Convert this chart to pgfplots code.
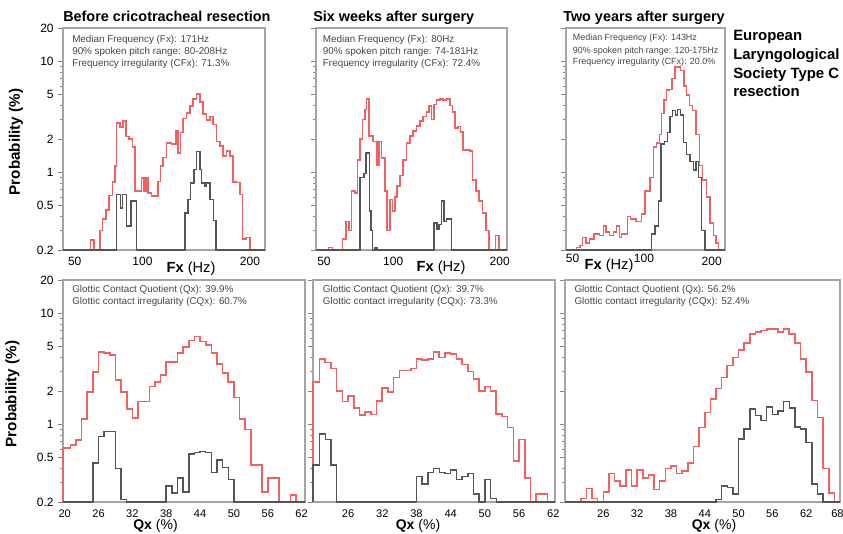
\documentclass[border=0pt]{standalone}
\usepackage{fontspec}
\setmainfont{Liberation Sans}
\usepackage{pgfplots}
\pgfplotsset{compat=1.18}
\definecolor{histred}{RGB}{240,98,98}
\definecolor{histgray}{RGB}{85,85,85}
\definecolor{framegray}{RGB}{165,165,165}
\definecolor{annot}{RGB}{70,70,70}
\tikzset{xtl/.style={font=\fontsize{9}{10}\selectfont, inner sep=0pt, anchor=center},
         qtl/.style={font=\fontsize{8.3}{10}\selectfont, inner sep=0pt, anchor=center, yshift=-8.5pt}}
\begin{document}
\begin{tikzpicture}
\path[use as bounding box] (0,0) rectangle (632.25pt,400.5pt);

% ---------- Panel 1: Fx before ----------
\begin{axis}[at={(47.25pt,213pt)}, anchor=south west, scale only axis, width=151.5pt, height=166.5pt,
  ymode=log, ymin=0.2, ymax=20, clip=false,
  axis line style={draw=framegray, line width=0.9pt},
  ytick={0.2,0.5,1,2,5,10,20}, minor ytick={0.3,0.4,0.6,0.7,0.8,0.9,3,4,6,7,8,9},
  tick align=outside, tick pos=left, major tick length=3.5pt, minor tick length=2.2pt,
  tick style={draw=framegray!80!black, line width=0.6pt}, xmajorticks=false,
  tick label style={font=\fontsize{9}{10}\selectfont},
  xmin=190, xmax=795, xtick=\empty,
  yticklabels={0.2,0.5,1,2,5,10,20}]
\addplot[const plot, draw=histred, line width=1.2pt] coordinates {(190,0.2)(272,0.245)(282,0.2)(300,0.30)(308,0.38)(318,0.46)(328,0.62)(338,0.82)(345,1.14)(350,2.8)(360,2.55)(370,2.9)(378,2.1)(388,2.0)(398,1.7)(405,0.68)(425,0.89)(432,0.68)(438,0.9)(445,0.65)(455,0.61)(475,0.83)(482,1.14)(490,1.36)(500,1.85)(515,1.8)(528,2.35)(535,1.5)(542,2.28)(550,3.05)(560,3.45)(570,3.95)(580,4.6)(590,5.1)(600,4.3)(610,3.35)(620,2.95)(630,3.2)(640,2.7)(650,1.9)(660,1.73)(670,1.4)(680,1.55)(690,1.4)(700,0.82)(710,0.81)(720,0.63)(728,0.25)(738,0.26)(750,0.2)(795,0.2)};
\addplot[const plot, draw=histgray, line width=1.1pt] coordinates {(190,0.2)(350,0.63)(362,0.48)(368,0.63)(380,0.33)(393,0.55)(410,0.2)(555,0.43)(565,0.57)(572,0.8)(582,1.06)(590,1.55)(600,1.06)(605,0.8)(615,0.75)(620,0.8)(630,0.57)(640,0.37)(648,0.2)(795,0.2)};
\node[xtl, yshift=-8.3pt] at (axis cs:225,0.2) {50};
\node[xtl, yshift=-8.3pt] at (axis cs:428,0.2) {100};
\node[xtl, yshift=-8.3pt] at (axis cs:750,0.2) {200};
\end{axis}

% ---------- Panel 2: Fx six weeks ----------
\begin{axis}[at={(237pt,213pt)}, anchor=south west, scale only axis, width=143.25pt, height=166.5pt,
  ymode=log, ymin=0.2, ymax=20, clip=false,
  axis line style={draw=framegray, line width=0.9pt},
  ytick={0.2,0.5,1,2,5,10,20}, minor ytick={0.3,0.4,0.6,0.7,0.8,0.9,3,4,6,7,8,9}, yticklabels={},
  tick align=outside, tick pos=left, major tick length=3.5pt, minor tick length=2.2pt,
  tick style={draw=framegray!80!black, line width=0.6pt}, xmajorticks=false,
  xmin=78, xmax=652, xtick=\empty]
\addplot[const plot, draw=histred, line width=1.2pt] coordinates {(78,0.2)(115,0.21)(128,0.2)(158,0.25)(168,0.36)(178,0.3)(185,0.68)(195,0.65)(203,1.3)(210,2.0)(218,3.0)(225,3.7)(230,4.6)(237,2.13)(250,1.9)(262,1.15)(268,1.9)(275,1.35)(285,0.68)(292,0.3)(300,0.57)(308,0.45)(315,0.6)(322,0.75)(330,0.94)(340,1.3)(350,1.85)(360,2.13)(370,2.35)(380,2.62)(390,2.9)(400,3.2)(410,3.5)(418,3.95)(425,3.0)(432,4.1)(440,4.5)(450,4.6)(460,4.5)(470,4.6)(480,4.0)(488,3.5)(495,2.5)(505,2.6)(512,2.3)(520,1.6)(540,1.55)(548,0.85)(558,0.68)(568,0.55)(578,0.43)(588,0.3)(598,0.2)(618,0.27)(628,0.2)(652,0.2)};
\addplot[const plot, draw=histgray, line width=1.1pt] coordinates {(78,0.2)(210,0.9)(222,0.98)(228,1.5)(238,0.45)(243,0.3)(248,0.2)(255,0.21)(262,0.2)(432,0.35)(442,0.31)(448,0.34)(455,0.55)(462,0.36)(470,0.38)(485,0.2)(652,0.2)};
\node[xtl, yshift=-8.3pt] at (axis cs:102,0.2) {50};
\node[xtl, yshift=-8.3pt] at (axis cs:310,0.2) {100};
\node[xtl, yshift=-8.3pt] at (axis cs:630,0.2) {200};
\end{axis}

% ---------- Panel 3: Fx two years ----------
\begin{axis}[at={(424.5pt,213pt)}, anchor=south west, scale only axis, width=119.25pt, height=166.5pt,
  ymode=log, ymin=0.2, ymax=20, clip=false,
  axis line style={draw=framegray, line width=0.9pt},
  ytick={0.2,0.5,1,2,5,10,20}, minor ytick={0.3,0.4,0.6,0.7,0.8,0.9,3,4,6,7,8,9}, yticklabels={},
  tick align=outside, tick pos=left, major tick length=3.5pt, minor tick length=2.2pt,
  tick style={draw=framegray!80!black, line width=0.6pt}, xmajorticks=false,
  xmin=48, xmax=525, xtick=\empty]
\addplot[const plot, draw=histred, line width=1.2pt] coordinates {(48,0.2)(80,0.21)(90,0.22)(98,0.26)(108,0.23)(118,0.25)(132,0.28)(148,0.27)(160,0.33)(168,0.29)(178,0.27)(190,0.29)(200,0.33)(208,0.26)(215,0.28)(232,0.4)(242,0.38)(258,0.36)(275,0.42)(285,0.68)(300,0.9)(310,1.7)(320,1.85)(328,2.2)(335,3.4)(342,4.5)(350,5.5)(358,5.6)(366,7.0)(375,8.9)(392,8.3)(402,6.0)(410,5.0)(418,4.0)(428,3.6)(438,2.2)(448,1.15)(458,0.85)(470,0.6)(480,0.35)(490,0.27)(498,0.23)(505,0.2)(525,0.2)};
\addplot[const plot, draw=histgray, line width=1.1pt] coordinates {(48,0.2)(305,0.28)(315,0.33)(325,0.55)(333,1.8)(343,1.9)(352,2.3)(360,3.2)(368,3.6)(376,3.3)(382,3.7)(392,3.3)(400,1.85)(410,1.45)(420,1.25)(430,1.05)(438,1.25)(445,0.9)(455,0.3)(465,0.2)(525,0.2)};
\node[xtl, yshift=-6pt] at (axis cs:68,0.2) {50};
\node[xtl, yshift=-6pt] at (axis cs:282,0.2) {100};
\node[xtl, yshift=-8.8pt] at (axis cs:485,0.2) {200};
\end{axis}

% ---------- Panel 4: Qx before ----------
\begin{axis}[at={(47.25pt,24pt)}, anchor=south west, scale only axis, width=181.5pt, height=166.5pt,
  ymode=log, ymin=0.2, ymax=20, clip=false,
  axis line style={draw=framegray, line width=0.9pt},
  ytick={0.2,0.5,1,2,5,10,20}, minor ytick={0.3,0.4,0.6,0.7,0.8,0.9,3,4,6,7,8,9},
  tick align=outside, tick pos=left, major tick length=3.5pt, minor tick length=2.2pt,
  tick style={draw=framegray!80!black, line width=0.6pt}, xmajorticks=false,
  tick label style={font=\fontsize{9}{10}\selectfont},
  xmin=19.7, xmax=62.6, xtick=\empty,
  yticklabels={0.2,0.5,1,2,5,10,20}]
\addplot[const plot, draw=histred, line width=1.2pt] coordinates {(19.7,0.2)(19.7,0.61)(21,0.65)(22,0.72)(23,1.12)(24,1.95)(25,2.95)(26,4.5)(27,4.4)(28,4.2)(29,2.5)(30,1.95)(31,1.37)(32,1.14)(33,1.61)(35,2.2)(36,2.4)(37,2.78)(38,3.65)(40,4.4)(41,5.0)(42,5.7)(43,6.2)(44,5.6)(45,5.2)(46,4.4)(47,3.5)(48,2.9)(49,2.4)(50,1.75)(51,1.12)(52,0.9)(53,0.43)(55,0.245)(56,0.33)(58,0.2)(60,0.23)(61,0.2)(62.6,0.2)};
\addplot[const plot, draw=histgray, line width=1.1pt] coordinates {(19.7,0.2)(25,0.45)(26,0.78)(27,0.86)(29,0.4)(30,0.21)(31,0.2)(38,0.28)(39,0.24)(40,0.33)(41,0.245)(42,0.54)(43,0.56)(44,0.57)(45,0.56)(46,0.37)(47,0.48)(48,0.41)(49,0.32)(50,0.2)(62.6,0.2)};
\node[qtl] at (axis cs:20,0.2) {20};
\node[qtl] at (axis cs:26,0.2) {26};
\node[qtl] at (axis cs:32,0.2) {32};
\node[qtl] at (axis cs:38,0.2) {38};
\node[qtl] at (axis cs:44,0.2) {44};
\node[qtl] at (axis cs:50,0.2) {50};
\node[qtl] at (axis cs:56,0.2) {56};
\node[qtl] at (axis cs:62,0.2) {62};
\end{axis}

% ---------- Panel 5: Qx six weeks ----------
\begin{axis}[at={(234.75pt,24pt)}, anchor=south west, scale only axis, width=181.5pt, height=166.5pt,
  ymode=log, ymin=0.2, ymax=20, clip=false,
  axis line style={draw=framegray, line width=0.9pt},
  ytick={0.2,0.5,1,2,5,10,20}, minor ytick={0.3,0.4,0.6,0.7,0.8,0.9,3,4,6,7,8,9}, yticklabels={},
  tick align=outside, tick pos=left, major tick length=3.5pt, minor tick length=2.2pt,
  tick style={draw=framegray!80!black, line width=0.6pt}, xmajorticks=false,
  xmin=19.85, xmax=62.3, xtick=\empty]
\addplot[const plot, draw=histred, line width=1.2pt] coordinates {(19.85,0.2)(19.85,2.4)(21,3.9)(22,3.6)(23,3.2)(24,2.0)(25,1.61)(26,1.8)(27,1.4)(28,1.22)(29,1.3)(30,1.23)(31,1.63)(32,2.13)(33,1.95)(34,2.65)(35,3.05)(37,3.2)(38,3.9)(39,3.8)(40,3.9)(41,4.5)(42,4.0)(43,4.4)(44,4.3)(45,3.9)(46,3.47)(47,3.0)(48,2.55)(49,2.0)(50,2.2)(51,2.0)(52,1.24)(53,1.18)(54,0.94)(55,0.47)(56,0.73)(57,0.33)(58,0.2)(59,0.235)(61,0.2)(62.3,0.2)};
\addplot[const plot, draw=histgray, line width=1.1pt] coordinates {(19.85,0.2)(19.85,0.43)(21,0.82)(22,0.73)(23,0.43)(24,0.2)(38,0.34)(39,0.29)(40,0.37)(41,0.40)(42,0.37)(43,0.36)(44,0.39)(45,0.32)(46,0.34)(47,0.36)(48,0.235)(49,0.2)(50,0.32)(51,0.215)(52,0.2)(62.3,0.2)};
\node[qtl] at (axis cs:26,0.2) {26};
\node[qtl] at (axis cs:32,0.2) {32};
\node[qtl] at (axis cs:38,0.2) {38};
\node[qtl] at (axis cs:44,0.2) {44};
\node[qtl] at (axis cs:50,0.2) {50};
\node[qtl] at (axis cs:56,0.2) {56};
\node[qtl] at (axis cs:62,0.2) {62};
\end{axis}

% ---------- Panel 6: Qx two years ----------
\begin{axis}[at={(423.75pt,24pt)}, anchor=south west, scale only axis, width=206.25pt, height=166.5pt,
  ymode=log, ymin=0.2, ymax=20, clip=false,
  axis line style={draw=framegray, line width=0.9pt},
  ytick={0.2,0.5,1,2,5,10,20}, minor ytick={0.3,0.4,0.6,0.7,0.8,0.9,3,4,6,7,8,9}, yticklabels={},
  tick align=outside, tick pos=left, major tick length=3.5pt, minor tick length=2.2pt,
  tick style={draw=framegray!80!black, line width=0.6pt}, xmajorticks=false,
  xmin=19.2, xmax=68, xtick=\empty]
\addplot[const plot, draw=histred, line width=1.2pt] coordinates {(19.2,0.2)(22,0.215)(23,0.265)(24,0.215)(25,0.2)(26,0.245)(27,0.36)(28,0.31)(29,0.28)(30,0.39)(31,0.28)(32,0.39)(33,0.33)(34,0.35)(35,0.26)(36,0.31)(37,0.40)(38,0.42)(39,0.36)(40,0.38)(41,0.45)(42,0.63)(43,0.94)(44,1.28)(45,1.7)(46,2.1)(47,2.65)(48,3.4)(49,4.0)(50,4.7)(51,5.4)(52,6.5)(53,6.8)(54,7.0)(55,7.25)(56,7.2)(57,6.8)(58,7.2)(59,6.5)(60,5.4)(61,3.9)(62,2.95)(63,1.64)(64,1.15)(65,0.40)(66,0.24)(67,0.2)(68,0.2)};
\addplot[const plot, draw=histgray, line width=1.1pt] coordinates {(19.2,0.2)(46,0.21)(47,0.28)(48,0.27)(49,0.235)(50,0.74)(51,0.91)(52,1.37)(53,1.2)(54,1.08)(55,1.44)(56,1.23)(57,1.32)(58,1.61)(59,1.4)(60,0.95)(61,0.91)(62,0.69)(63,0.29)(64,0.235)(65,0.2)(68,0.2)};
\node[qtl] at (axis cs:26,0.2) {26};
\node[qtl] at (axis cs:32,0.2) {32};
\node[qtl] at (axis cs:38,0.2) {38};
\node[qtl] at (axis cs:44,0.2) {44};
\node[qtl] at (axis cs:50,0.2) {50};
\node[qtl] at (axis cs:56,0.2) {56};
\node[qtl] at (axis cs:62,0.2) {62};
\node[qtl] at (axis cs:67.55,0.2) {68};
\end{axis}

\begin{scope}[x=0.75pt,y=0.75pt]
% ---------- Titles ----------
\begin{scope}[every node/.style={anchor=base west, inner sep=0pt, font=\bfseries\fontsize{10.8}{12}\selectfont}]
\node at (63,512.8) {Before cricotracheal resection};
\node at (313,512.8) {Six weeks after surgery};
\node at (563,512.3) {Two years after surgery};
\end{scope}
\begin{scope}[every node/.style={anchor=base west, inner sep=0pt, font=\bfseries\fontsize{11.2}{13}\selectfont}]
\node at (733,493.3) {European};
\node at (733,474.3) {Laryngological};
\node at (733,455.3) {Society Type C};
\node at (733,437.3) {resection};
\end{scope}

% ---------- Axis labels ----------
\node[rotate=90, font=\bfseries\fontsize{11.4}{12}\selectfont] at (16,392) {Probability (\%)};
\node[rotate=90, font=\bfseries\fontsize{11.4}{12}\selectfont] at (12.5,140) {Probability (\%)};
\begin{scope}[every node/.style={font=\fontsize{11}{12}\selectfont, inner sep=0pt}]
\node at (191,265.5) {\textbf{Fx} (Hz)};
\node at (441,266) {\textbf{Fx} (Hz)};
\node at (609,268) {\textbf{Fx} (Hz)};
\end{scope}
\begin{scope}[every node/.style={font=\fontsize{10.5}{12}\selectfont, inner sep=0pt}]
\node at (155.5,8) {\textbf{Qx} (\%)};
\node at (418,8) {\textbf{Qx} (\%)};
\node at (714,8) {\textbf{Qx} (\%)};
\end{scope}

% ---------- Annotations ----------
\begin{scope}[every node/.style={anchor=base west, inner sep=0pt, text=annot, font=\fontsize{7.4}{9}\selectfont}]
\node at (72,491.7) {Median Frequency (Fx): 171Hz};
\node at (72,479) {90\% spoken pitch range: 80-208Hz};
\node at (72,467.3) {Frequency irregularity (CFx): 71.3\%};
\node at (322.7,491.7) {Median Frequency (Fx): 80Hz};
\node at (322.7,479) {90\% spoken pitch range: 74-181Hz};
\node at (322.7,467.3) {Frequency irregularity (CFx): 72.4\%};
\node at (72,241.7) {Glottic Contact Quotient (Qx): 39.9\%};
\node at (72,229) {Glottic contact irregularity (CQx): 60.7\%};
\node at (322.7,241.7) {Glottic Contact Quotient (Qx): 39.7\%};
\node at (322.7,229) {Glottic contact irregularity (CQx): 73.3\%};
\node at (574.3,241.7) {Glottic Contact Quotient (Qx): 56.2\%};
\node at (574.3,229) {Glottic contact irregularity (CQx): 52.4\%};
\end{scope}
\begin{scope}[every node/.style={anchor=base west, inner sep=0pt, text=annot, font=\fontsize{6.7}{8}\selectfont}]
\node at (572.7,493.3) {Median Frequency (Fx): 143Hz};
\node at (572.7,480.7) {90\% spoken pitch range: 120-175Hz};
\node at (572.7,469.7) {Frequency irregularity (CFx): 20.0\%};
\end{scope}
\end{scope}
\end{tikzpicture}
\end{document}
